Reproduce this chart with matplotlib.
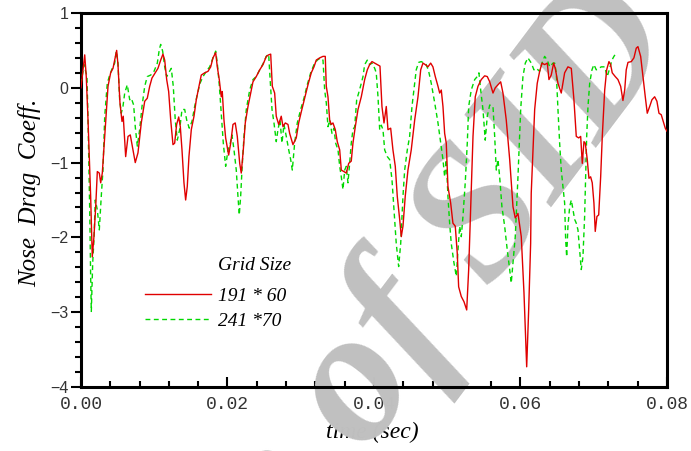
import numpy as np
import matplotlib
matplotlib.use("Agg")
import matplotlib.pyplot as plt
from matplotlib.ticker import MultipleLocator

# -----------------------------
# data (time in ms, nose drag coefficient)
# -----------------------------
red_t_ms = [
    0.00, 0.51, 0.72, 0.96, 1.32, 1.54, 1.77, 2.01, 2.23, 2.50,
    2.69, 2.91, 3.24, 3.69, 4.05, 4.37, 4.60, 4.87, 5.05, 5.32,
    5.60, 5.77, 6.10, 6.42, 6.73, 7.00, 7.41, 7.78, 8.23, 8.70,
    9.05, 9.38, 9.69, 10.14, 10.51, 10.88, 11.19, 11.43, 11.70, 11.97,
    12.25, 12.56, 12.79, 13.06, 13.34, 13.56, 13.79, 14.06, 14.29, 14.51,
    14.74, 15.06, 15.43, 15.74, 16.07, 16.42, 16.89, 17.34, 17.71, 18.02,
    18.39, 18.61, 18.88, 19.15, 19.29, 19.52, 19.75, 20.16, 20.44, 20.75,
    21.06, 21.34, 21.67, 21.88, 22.16, 22.43, 22.80, 23.17, 23.48, 23.93,
    24.40, 24.85, 25.30, 25.62, 25.90, 26.12, 26.44, 26.66, 26.99, 27.34,
    27.58, 27.89, 28.26, 28.49, 28.94, 29.39, 29.72, 30.08, 30.54, 30.99,
    31.44, 31.81, 32.12, 32.59, 33.04, 33.35, 33.49, 33.72, 33.95, 34.17,
    34.40, 34.72, 34.99, 35.32, 35.54, 35.90, 36.22, 36.55, 36.90, 37.13,
    37.45, 37.82, 38.27, 38.73, 39.09, 39.41, 39.73, 40.10, 40.45, 40.82,
    41.09, 41.37, 41.68, 41.91, 42.28, 42.59, 42.91, 43.18, 43.51, 43.73,
    43.96, 44.27, 44.64, 45.09, 45.56, 46.01, 46.38, 46.69, 47.00, 47.37,
    47.74, 48.05, 48.37, 48.74, 48.97, 49.19, 49.42, 49.65, 49.87, 50.10,
    50.47, 50.78, 51.10, 51.37, 51.56, 51.92, 52.29, 52.66, 52.93, 53.20,
    53.52, 53.83, 54.20, 54.65, 55.11, 55.47, 55.80, 56.25, 56.56, 56.93,
    57.30, 57.61, 58.06, 58.53, 58.98, 59.29, 59.66, 60.11, 60.48, 60.85,
    61.12, 61.39, 61.47, 61.71, 61.94, 62.29, 62.62, 62.94, 63.30, 63.66,
    63.89, 64.20, 64.53, 64.75, 65.12, 65.57, 66.03, 66.48, 66.94, 67.30,
    67.62, 67.95, 68.22, 68.44, 68.67, 68.85, 69.12, 69.35, 69.58, 69.80,
    70.03, 70.21, 70.44, 70.68, 70.95, 71.17, 71.50, 71.77, 72.08, 72.31,
    72.53, 72.94, 73.31, 73.68, 73.99, 74.23, 74.44, 74.68, 75.13, 75.49,
    75.81, 76.04, 76.41, 76.72, 77.04, 77.31, 77.64, 77.95, 78.32, 78.63,
    78.91, 79.22, 79.49, 79.77, 80.00,
]
red_cd = [
    0.00, 0.44, 0.15, -0.43, -1.45, -2.26, -1.99, -1.59, -1.12, -1.14,
    -1.27, -1.14, -0.65, 0.02, 0.20, 0.26, 0.37, 0.50, 0.31, -0.20,
    -0.45, -0.38, -0.92, -0.65, -0.63, -0.78, -1.00, -0.87, -0.47, -0.18,
    -0.14, 0.02, 0.13, 0.20, 0.26, 0.37, 0.45, 0.37, 0.11, -0.05,
    -0.43, -0.76, -0.74, -0.49, -0.39, -0.52, -0.83, -1.27, -1.50, -1.32,
    -0.92, -0.56, -0.38, -0.16, 0.00, 0.17, 0.20, 0.22, 0.28, 0.40,
    0.47, 0.28, 0.11, -0.12, -0.05, -0.43, -0.67, -0.90, -0.74, -0.49,
    -0.47, -0.65, -1.01, -1.14, -0.83, -0.47, -0.25, -0.07, 0.08, 0.15,
    0.24, 0.31, 0.42, 0.44, 0.45, 0.02, -0.07, -0.38, -0.49, -0.38,
    -0.52, -0.47, -0.49, -0.61, -0.76, -0.67, -0.47, -0.32, -0.14, 0.04,
    0.20, 0.28, 0.37, 0.40, 0.42, 0.42, 0.02, -0.12, -0.43, -0.49,
    -0.47, -0.56, -0.72, -0.83, -1.10, -1.12, -1.14, -1.01, -0.98, -0.74,
    -0.52, -0.29, -0.12, 0.11, 0.24, 0.31, 0.35, 0.33, 0.31, 0.29,
    -0.25, -0.47, -0.25, -0.56, -0.54, -0.83, -1.05, -1.45, -1.76, -1.99,
    -1.85, -1.45, -1.10, -0.83, -0.43, -0.12, 0.24, 0.33, 0.31, 0.28,
    0.33, 0.28, 0.15, 0.02, -0.07, -0.03, -0.25, -0.61, -0.74, -1.32,
    -1.54, -1.81, -1.85, -2.21, -2.66, -2.79, -2.86, -2.97, -2.43, -1.63,
    -0.65, -0.12, 0.02, 0.11, 0.16, 0.15, 0.08, -0.07, 0.00, 0.04,
    0.08, -0.07, -0.43, -0.96, -1.59, -1.74, -1.68, -1.99, -2.74, -3.73,
    -2.97, -2.08, -1.41, -0.83, -0.29, 0.06, 0.22, 0.33, 0.31, 0.33,
    0.11, 0.17, 0.33, 0.26, 0.06, -0.07, 0.20, 0.28, 0.26, -0.16,
    -0.65, -0.67, -0.65, -1.01, -0.72, -0.74, -0.96, -1.21, -1.19, -1.27,
    -1.54, -1.92, -1.72, -1.70, -1.19, -0.65, -0.03, 0.24, 0.35, 0.31,
    0.20, 0.15, 0.11, 0.02, -0.17, -0.03, 0.24, 0.34, 0.35, 0.40,
    0.53, 0.55, 0.42, 0.15, -0.12, -0.34, -0.25, -0.16, -0.12, -0.18,
    -0.34, -0.36, -0.45, -0.54, -0.58,
]

green_t_ms = [
    0.00, 0.41, 0.59, 0.82, 0.96, 1.19, 1.32, 1.41, 1.60, 1.77,
    1.95, 2.23, 2.50, 2.77, 3.00, 3.24, 3.59, 3.92, 4.23, 4.60,
    4.82, 5.05, 5.28, 5.50, 5.73, 5.97, 6.32, 6.65, 6.87, 7.19,
    7.41, 7.69, 8.01, 8.33, 8.70, 9.05, 9.52, 9.97, 10.42, 10.69,
    10.88, 11.15, 11.43, 11.70, 11.97, 12.33, 12.60, 12.87, 13.15, 13.47,
    13.79, 14.16, 14.43, 14.78, 15.15, 15.52, 15.88, 16.25, 16.66, 17.11,
    17.57, 18.02, 18.39, 18.61, 18.88, 19.15, 19.43, 19.75, 20.07, 20.30,
    20.61, 20.89, 21.20, 21.43, 21.61, 21.80, 21.98, 22.25, 22.57, 23.03,
    23.48, 23.93, 24.40, 24.85, 25.30, 25.62, 25.80, 26.08, 26.35, 26.66,
    26.89, 27.17, 27.44, 27.71, 28.03, 28.36, 28.63, 28.85, 29.17, 29.53,
    29.99, 30.44, 30.89, 31.36, 31.81, 32.26, 32.72, 33.04, 33.27, 33.49,
    33.72, 33.95, 34.27, 34.54, 34.77, 35.09, 35.32, 35.54, 35.77, 36.00,
    36.22, 36.45, 36.68, 36.90, 37.13, 37.37, 37.64, 37.91, 38.27, 38.50,
    38.73, 39.09, 39.41, 39.73, 40.10, 40.31, 40.55, 40.78, 41.00, 41.23,
    41.46, 41.82, 42.14, 42.46, 42.73, 43.04, 43.37, 43.65, 43.96, 44.19,
    44.55, 44.87, 45.19, 45.56, 45.77, 46.10, 46.46, 46.83, 47.14, 47.47,
    47.82, 48.29, 48.74, 49.11, 49.42, 49.65, 49.87, 50.10, 50.33, 50.55,
    50.92, 51.24, 51.47, 51.70, 51.92, 52.15, 52.46, 52.74, 52.93, 53.28,
    53.75, 54.10, 54.33, 54.57, 54.88, 55.19, 55.47, 55.80, 56.25, 56.48,
    56.70, 56.93, 57.16, 57.47, 57.84, 58.20, 58.53, 58.74, 58.98, 59.29,
    59.66, 60.03, 60.34, 60.66, 61.02, 61.48, 61.84, 62.16, 62.62, 62.94,
    63.30, 63.66, 63.99, 64.44, 64.67, 64.89, 65.12, 65.35, 65.57, 65.80,
    66.03, 66.17, 66.31, 66.48, 66.72, 66.94, 67.17, 67.40, 67.62, 67.85,
    68.08, 68.30, 68.53, 68.76, 68.90, 69.04, 69.22, 69.45, 69.76, 70.03,
    70.35, 70.68, 71.03, 71.50, 71.85, 72.18, 72.49, 72.76, 73.04,
]
green_cd = [
    0.05, 0.31, 0.24, 0.15, -0.43, -1.63, -2.52, -2.99, -2.34, -2.03,
    -1.50, -1.63, -1.90, -1.45, -1.10, -0.38, 0.06, 0.17, 0.25, 0.33,
    0.49, 0.33, -0.16, -0.34, -0.25, -0.07, 0.04, -0.16, -0.14, -0.23,
    -0.52, -0.78, -0.56, -0.25, 0.02, 0.15, 0.17, 0.22, 0.33, 0.51,
    0.58, 0.49, 0.28, 0.15, 0.20, 0.26, 0.02, -0.43, -0.70, -0.56,
    -0.29, -0.29, -0.43, -0.54, -0.45, -0.25, -0.09, 0.06, 0.15, 0.22,
    0.28, 0.40, 0.49, 0.33, 0.04, -0.34, -0.74, -1.05, -0.83, -0.78,
    -0.63, -0.83, -1.10, -1.45, -1.70, -1.45, -1.10, -0.65, -0.29, -0.03,
    0.11, 0.15, 0.24, 0.32, 0.42, 0.45, 0.15, -0.29, -0.47, -0.72,
    -0.56, -0.43, -0.74, -0.49, -0.65, -0.83, -0.96, -1.10, -0.74, -0.47,
    -0.29, -0.14, 0.04, 0.20, 0.31, 0.37, 0.40, 0.37, -0.03, -0.20,
    -0.52, -0.43, -0.61, -0.54, -0.74, -0.83, -1.05, -1.19, -1.36, -1.10,
    -1.05, -1.27, -1.01, -0.74, -0.56, -0.52, -0.16, -0.07, 0.06, 0.15,
    0.31, 0.37, 0.31, 0.33, 0.26, 0.20, -0.12, -0.56, -0.50, -0.56,
    -0.83, -0.92, -0.96, -1.23, -1.63, -2.08, -2.39, -2.08, -1.45, -1.10,
    -0.83, -0.65, -0.25, 0.06, 0.24, 0.34, 0.35, 0.33, 0.31, 0.22,
    0.06, -0.20, -0.47, -0.74, -0.96, -1.19, -0.96, -1.45, -1.81, -2.08,
    -2.34, -2.52, -2.17, -1.85, -1.99, -1.72, -1.27, -0.74, -0.25, -0.03,
    0.11, 0.15, 0.20, -0.03, -0.29, -0.70, -0.38, -0.23, -0.25, -0.65,
    -1.10, -0.96, -1.19, -1.59, -1.85, -2.17, -2.43, -2.61, -2.34, -1.99,
    -1.19, -0.29, 0.15, 0.33, 0.40, 0.33, 0.24, 0.26, 0.22, 0.33,
    0.42, 0.37, 0.28, 0.33, 0.33, 0.20, -0.29, -0.74, -1.10, -1.32,
    -1.54, -2.03, -2.26, -1.85, -1.59, -1.50, -1.63, -1.76, -1.81, -1.90,
    -2.17, -2.43, -2.26, -1.72, -1.19, -0.65, -0.25, 0.06, 0.24, 0.31,
    0.24, 0.26, 0.28, 0.28, 0.15, 0.26, 0.37, 0.42, 0.46,
]

series_labels = ["191 * 60", "241 *70"]
x_ticks = [0.00, 0.02, 0.04, 0.06, 0.08]
x_tick_labels = ["0.00", "0.02", "0.04", "0.06", "0.08"]
y_ticks = [-4, -3, -2, -1, 0, 1]

red_t = np.array(red_t_ms) / 1000.0
green_t = np.array(green_t_ms) / 1000.0

# -----------------------------
# figure
# -----------------------------
fig = plt.figure(figsize=(6.91, 4.51), dpi=100)
ax = fig.add_axes([0.1172, 0.1419, 0.8480, 0.8293])

ax.plot(red_t, red_cd, color="#e00000", lw=1.0, label=series_labels[0], zorder=3)
ax.plot(green_t, green_cd, color="#00d800", lw=1.0, ls=(0, (3.5, 2.5)),
        label=series_labels[1], zorder=2.9)

ax.set_xlim(0, 0.08)
ax.set_ylim(-4, 1)

ax.set_xticks(x_ticks)
ax.set_xticklabels(x_tick_labels, family="Liberation Mono", fontsize=13, color="#333333")
ax.xaxis.set_minor_locator(MultipleLocator(0.004))
ax.set_yticks(y_ticks)
ax.set_yticklabels([str(v).replace("-", "\u2212") for v in y_ticks],
                   family="Liberation Sans", fontsize=11.5, color="#333333")
ax.yaxis.set_minor_locator(MultipleLocator(0.2))

ax.tick_params(axis="x", which="both", direction="in", top=False, width=1.5, pad=6.5)
ax.tick_params(axis="x", which="major", length=7.5)
ax.tick_params(axis="x", which="minor", length=4.5)
ax.tick_params(axis="y", which="both", direction="out", right=False, width=1.5, pad=1.5)
ax.tick_params(axis="y", which="major", length=7.5)
ax.tick_params(axis="y", which="minor", length=4)

for sp in ax.spines.values():
    sp.set_linewidth(2.2)

ax.set_xlabel("time (sec)", family="Liberation Serif", style="italic", fontsize=17)
ax.xaxis.set_label_coords(0.498, -0.094)
ax.set_ylabel("Nose  Drag  Coeff.", family="Liberation Serif", style="italic", fontsize=18)
ax.yaxis.set_label_coords(-0.068, 0.52)

# legend
ax.text(0.2338, 0.326, "Grid Size", transform=ax.transAxes, family="Liberation Serif",
        style="italic", fontsize=14, va="center")
ax.legend(loc="upper left", bbox_to_anchor=(0.109, 0.267), frameon=False,
          prop={"family": "Liberation Serif", "style": "italic", "size": 14},
          handlelength=3.4, handletextpad=0.35, labelspacing=0.4,
          borderpad=0, borderaxespad=0)

# watermark: above tick labels, below curves and spines
ax.text(0.990, 0.903, "Archive of SID", transform=fig.transFigure, rotation=53,
        rotation_mode="anchor", ha="right", va="baseline", fontsize=137,
        family="Liberation Serif", style="italic", weight="bold",
        color="#c0c0c0", zorder=1.6, clip_on=False)

fig.savefig("out.png", dpi=100)
